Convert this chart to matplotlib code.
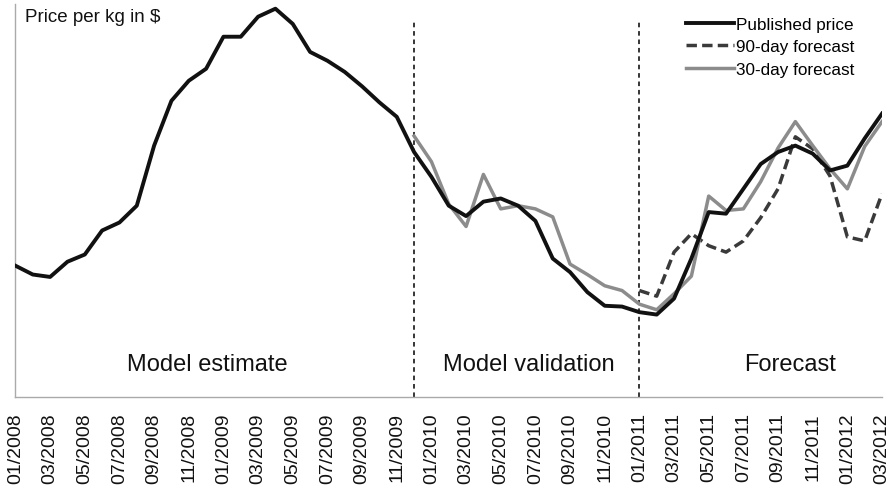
import matplotlib
matplotlib.use("Agg")
import matplotlib.pyplot as plt

plt.rcParams['font.family'] = ['Liberation Sans', 'DejaVu Sans']

# months 01/2008 .. 03/2012
months = [f"{m:02d}/{y}" for y in range(2008, 2013) for m in range(1, 13)][:51]

# published price (all months)
published = [2.64, 2.53, 2.50, 2.69, 2.78, 3.08, 3.18, 3.39, 4.14, 4.70,
             4.95, 5.10, 5.50, 5.50, 5.75, 5.85, 5.66, 5.31, 5.20, 5.06,
             4.88, 4.68, 4.50, 4.06, 3.75, 3.39, 3.26, 3.44, 3.48, 3.39,
             3.20, 2.73, 2.56, 2.31, 2.14, 2.13, 2.06, 2.03, 2.23, 2.73,
             3.31, 3.29, 3.60, 3.91, 4.06, 4.14, 4.04, 3.83, 3.89, 4.23,
             4.54]

# 30-day forecast, from 12/2009 (index 23)
fc30_start = 23
fc30 = [4.26, 3.94, 3.41, 3.13, 3.78, 3.35, 3.39, 3.35, 3.25, 2.66,
        2.53, 2.39, 2.33, 2.16, 2.09, 2.29, 2.51, 3.51, 3.33, 3.35,
        3.69, 4.11, 4.44, 4.14, 3.85, 3.60, 4.13, 4.44]

# 90-day forecast, from 01/2011 (index 36)
fc90_start = 36
fc90 = [2.33, 2.26, 2.81, 3.04, 2.89, 2.81, 2.95, 3.24, 3.60, 4.25,
        4.10, 3.76, 3.00, 2.95, 3.54]

period_breaks = [23, 36]
period_labels = ["Model estimate", "Model validation", "Forecast"]
period_centers = [11.05, 29.6, 44.7]

fig = plt.figure(figsize=(8.94, 4.89), dpi=100)
ax = fig.add_axes([0.0173, 0.186, 0.9693, 0.804])

x = list(range(len(published)))
ax.plot(x, published, color='#111111', lw=2.8, label='Published price', zorder=4)
ax.plot(range(fc90_start, fc90_start + len(fc90)), fc90, color='#3a3a3a', lw=2.5,
        dashes=(3.0, 1.5), label='90-day forecast', zorder=3)
ax.plot(range(fc30_start, fc30_start + len(fc30)), fc30, color='#8c8c8c', lw=2.5,
        label='30-day forecast', zorder=3)

for b in period_breaks:
    ax.axvline(b, ymin=0, ymax=0.957, color='black', lw=1.1, ls=(0, (3, 2.5)), zorder=1)

for xc, lab in zip(period_centers, period_labels):
    ax.text(xc, 0.084, lab, transform=ax.get_xaxis_transform(), ha='center',
            va='center', fontsize=17, color='#111111')

ax.text(0.011, 0.967, "Price per kg in $", transform=ax.transAxes, ha='left',
        va='center', fontsize=13.5, color='#111111')

ax.set_xlim(0, 50)
ax.set_ylim(1.0, 5.91)
ax.set_xticks(x[::2])
ax.set_xticklabels(months[::2], rotation=90, fontsize=14, color='#111111')
ax.tick_params(axis='x', length=0, pad=11)
ax.set_yticks([])

for s in ['top', 'right']:
    ax.spines[s].set_visible(False)
for s in ['left', 'bottom']:
    ax.spines[s].set_color('#aaaaaa')
    ax.spines[s].set_linewidth(1.0)

ax.legend(loc='upper left', bbox_to_anchor=(0.774, 0.966), frameon=False,
          fontsize=12.3, handlelength=2.8, handletextpad=0.1, borderpad=0,
          borderaxespad=0, labelspacing=0.42)

fig.savefig('out.png', dpi=100)
